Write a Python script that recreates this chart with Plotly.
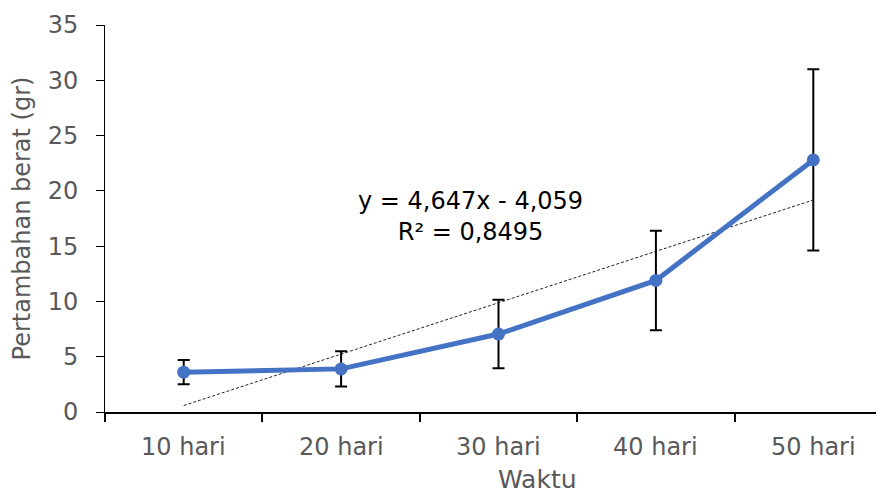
import plotly.graph_objects as go

categories = ["10 hari", "20 hari", "30 hari", "40 hari", "50 hari"]
means = [3.6, 3.9, 7.05, 11.9, 22.8]
errors = [1.1, 1.6, 3.1, 4.5, 8.2]
slope = 4.647
intercept = -4.059
r2_text = "R² = 0,8495"
eq_text = "y = 4,647x - 4,059"

xi = list(range(len(categories)))
trend = [slope * (i + 1) + intercept for i in xi]

FONT = "DejaVu Sans"
GRAY = "#595959"

fig = go.Figure()
fig.add_trace(go.Scatter(
    x=xi, y=trend, mode="lines",
    line=dict(color="#222222", width=1, dash="3px,2px"),
    hoverinfo="skip", showlegend=False))
fig.add_trace(go.Scatter(
    x=xi, y=means, mode="lines+markers",
    line=dict(color="#4472C4", width=5),
    marker=dict(color="#4472C4", size=13),
    error_y=dict(type="data", array=errors, visible=True,
                 color="black", thickness=2, width=6),
    showlegend=False))

fig.add_annotation(x=1.82, y=17.7, xref="x", yref="y",
                   text=eq_text + "<br>" + r2_text, showarrow=False,
                   font=dict(family=FONT, size=24, color="black"),
                   align="center")
fig.add_annotation(x=2.245, y=-0.174, xref="x", yref="paper",
                   xanchor="center", yanchor="middle",
                   text="Waktu", showarrow=False,
                   font=dict(family=FONT, size=25, color=GRAY))

fig.update_layout(
    width=884, height=495,
    margin=dict(l=97, r=0, t=17, b=91),
    plot_bgcolor="white", paper_bgcolor="white",
    font=dict(family=FONT, color=GRAY, size=24),
    xaxis=dict(range=[-0.5, 4.5], tickmode="array",
               tickvals=[-0.5, 0.5, 1.5, 2.5, 3.5, 4.5],
               ticktext=[""] * 6,
               showline=True, linecolor="black", linewidth=2,
               ticks="outside", ticklen=8, tickwidth=2, tickcolor="black",
               showgrid=False, zeroline=False, automargin=False),
    yaxis=dict(range=[0, 35], dtick=5, showline=True, linecolor="black", linewidth=1,
               ticks="outside", ticklen=8, tickwidth=1, tickcolor="black",
               ticklabelstandoff=13,
               showgrid=False, zeroline=False, automargin=False,
               title=dict(text="Pertambahan berat (gr)", font=dict(family=FONT, size=24, color=GRAY), standoff=10),
               tickfont=dict(family=FONT, size=24, color=GRAY)),
)

for i, c in zip(xi, categories):
    fig.add_annotation(x=i, y=0, xref="x", yref="y", yshift=-35,
                       text=c, showarrow=False,
                       font=dict(family=FONT, size=24, color=GRAY))

fig.write_html("out.html")
